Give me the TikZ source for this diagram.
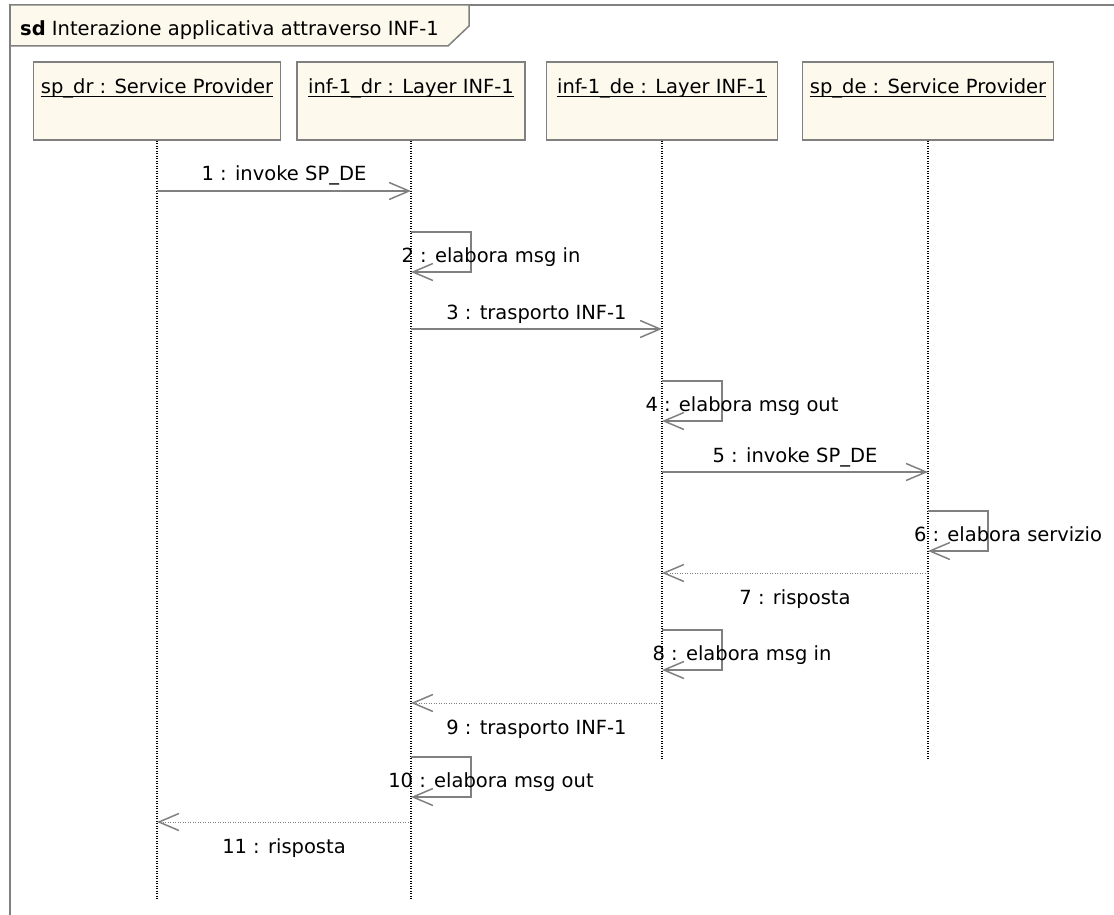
\documentclass[tikz,border=0pt]{standalone}
\usepackage{fontspec}
\setmainfont{DejaVu Sans}
\usetikzlibrary{arrows.meta}
\definecolor{framegray}{RGB}{128,128,128}
\definecolor{boxfill}{RGB}{254,249,237}
\definecolor{msggray}{RGB}{128,128,128}
\begin{document}
\begin{tikzpicture}[x=1pt,y=-1pt,
  font=\fontsize{19.5}{23}\selectfont,
  obj/.style={draw=framegray, line width=1.5pt, fill=boxfill, minimum height=78pt, inner sep=0pt},
  objname/.style={anchor=base, inner sep=0pt},
  uline/.style={black, line width=1.5pt},
  lifeline/.style={black, line width=1.3pt, dash pattern=on 1.2pt off 1.3pt},
  msg/.style={draw=msggray, line width=1.5pt, -{Straight Barb[length=20pt,width=17pt,line width=1.5pt]}},
  reply/.style={draw=msggray, line width=1pt, dash pattern=on 1pt off 1.5pt, -{Straight Barb[length=20pt,width=17pt,line width=1.5pt]}},
  lbl/.style={anchor=base, inner sep=0pt}]
\useasboundingbox (0,0) rectangle (1114,915);
\clip (0,0) rectangle (1114,915);

% interaction frame (continues past the page on the right and bottom)
\draw[framegray, line width=1.5pt] (10,930) -- (10,5) -- (1130,5);
\draw[framegray, line width=1.5pt, fill=boxfill]
  (10,5) -- (469,5) -- (469,26) -- (448,46) -- (10,46) -- cycle;
\node[anchor=base west, inner sep=0pt] (title) at (20,36)
  {\textbf{sd} Interazione applicativa attraverso INF-1};

% participants
\node[obj, minimum width=247pt] (b1) at (157,101) {};
\node[obj, minimum width=228pt] (b2) at (411,101) {};
\node[obj, minimum width=231pt] (b3) at (662,101) {};
\node[obj, minimum width=251pt] (b4) at (928,101) {};

\node[objname] (t1) at ([yshift=-32pt]b1.north) {sp\_dr : Service Provider};
\node[objname] (t2) at ([yshift=-32pt]b2.north) {inf-1\_dr : Layer INF-1};
\node[objname] (t3) at ([yshift=-32pt]b3.north) {inf-1\_de : Layer INF-1};
\node[objname] (t4) at ([yshift=-32pt]b4.north) {sp\_de : Service Provider};
\foreach \t in {t1,t2,t3,t4}
  \draw[uline] ([yshift=-3.3pt]\t.base west) -- ([yshift=-3.3pt]\t.base east);

% lifelines
\coordinate (endlong) at (0,900);
\coordinate (endshort) at (0,760);
\draw[lifeline] (b1.south) -- (b1 |- endlong);
\draw[lifeline] (b2.south) -- (b2 |- endlong);
\draw[lifeline] (b3.south) -- (b3 |- endshort);
\draw[lifeline] (b4.south) -- (b4 |- endshort);

% message rows
\coordinate (r1) at (0,191);
\coordinate (r2) at (0,232);  \coordinate (r2b) at (0,272);
\coordinate (r3) at (0,329);
\coordinate (r4) at (0,381);  \coordinate (r4b) at (0,421);
\coordinate (r5) at (0,472);
\coordinate (r6) at (0,511);  \coordinate (r6b) at (0,551);
\coordinate (r7) at (0,573);
\coordinate (r8) at (0,630);  \coordinate (r8b) at (0,670);
\coordinate (r9) at (0,703);
\coordinate (r10) at (0,757); \coordinate (r10b) at (0,797);
\coordinate (r11) at (0,822);

% 1
\draw[msg] (b1 |- r1) -- (b2 |- r1)
  node[lbl, midway, yshift=10pt] (l1) {1 : invoke SP\_DE};
% 2
\draw[msg] (b2 |- r2) -- ++(60,0) |- (b2 |- r2b);
\path (b2 |- r2b) ++(80,-10) node[lbl] (l2) {2 : elabora msg in};
% 3
\draw[msg] (b2 |- r3) -- (b3 |- r3)
  node[lbl, midway, yshift=10pt] (l3) {3 : trasporto INF-1};
% 4
\draw[msg] (b3 |- r4) -- ++(60,0) |- (b3 |- r4b);
\path (b3 |- r4b) ++(80,-10) node[lbl] (l4) {4 : elabora msg out};
% 5
\draw[msg] (b3 |- r5) -- (b4 |- r5)
  node[lbl, midway, yshift=10pt] (l5) {5 : invoke SP\_DE};
% 6
\draw[msg] (b4 |- r6) -- ++(60,0) |- (b4 |- r6b);
\path (b4 |- r6b) ++(80,-10) node[lbl] (l6) {6 : elabora servizio};
% 7
\draw[reply] (b4 |- r7) -- (b3 |- r7)
  node[lbl, midway, yshift=-31pt] (l7) {7 : risposta};
% 8
\draw[msg] (b3 |- r8) -- ++(60,0) |- (b3 |- r8b);
\path (b3 |- r8b) ++(80,-10) node[lbl] (l8) {8 : elabora msg in};
% 9
\draw[reply] (b3 |- r9) -- (b2 |- r9)
  node[lbl, midway, yshift=-31pt] (l9) {9 : trasporto INF-1};
% 10
\draw[msg] (b2 |- r10) -- ++(60,0) |- (b2 |- r10b);
\path (b2 |- r10b) ++(80,-10) node[lbl] (l10) {10 : elabora msg out};
% 11
\draw[reply] (b2 |- r11) -- (b1 |- r11)
  node[lbl, midway, yshift=-31pt] (l11) {11 : risposta};
\end{tikzpicture}
\end{document}
